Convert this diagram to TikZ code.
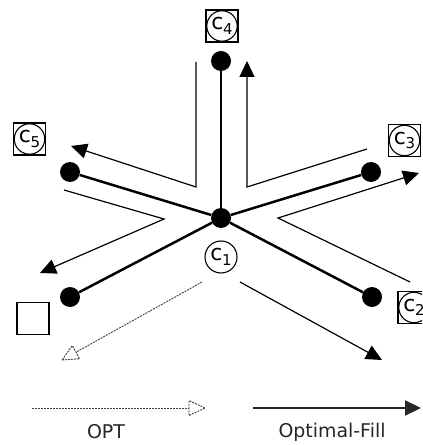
\documentclass[tikz,border=0pt]{standalone}
\usepackage{fontspec}
\setmainfont{DejaVu Sans}
\usetikzlibrary{arrows.meta,calc}
\newcommand\clab[1]{{\fontsize{22}{22}\selectfont c}\kern-0.5bp{\fontsize{15}{15}\selectfont\raisebox{-4.5bp}{#1}}}
\begin{document}
\begin{tikzpicture}[x=1bp,y=-1bp,
  dot/.style={circle,fill,minimum size=20bp,inner sep=0},
  tree/.style={line width=2.5bp},
  fillarrow/.style={line width=1.2bp,-{Triangle[length=16bp,width=15bp]}},
  opt/.style={line width=0.9bp,black!75,dash pattern=on 2bp off 1bp},
  lbox/.style={draw,line width=1.1bp,minimum size=32bp,inner sep=0,
    path picture={\draw[line width=1.1bp] (path picture bounding box.center) circle (15.2bp);}},
  ebox/.style={draw,line width=1.1bp,minimum size=32bp,inner sep=0},
  lcirc/.style={draw,circle,line width=1.1bp,minimum size=32bp,inner sep=0},
  legend/.style={font=\fontsize{19}{23}\selectfont,text=black!85}]
\clip (0,0) rectangle (422,445);
\fill[white] (0,0) rectangle (422,445);
% tree
\node[dot] (r) at (221,218) {};
\node[dot] (d4) at (221,61) {};
\node[dot] (d5) at (70,172) {};
\node[dot] (d3) at (371,172) {};
\node[dot] (d6) at (70,297) {};
\node[dot] (d2) at (372,297) {};
\foreach \d in {d4,d5,d3,d6,d2} \draw[tree] (r) -- (\d);
% labels
\node[lbox] (c4) at (222,26) {\clab{4}};
\node[lbox] (c5) at (29.5,139) {\clab{5}};
\node[lbox] (c3) at (404.5,140.5) {\clab{3}};
\node[lbox] (c2) at (414,307.5) {\clab{2}};
\node[ebox] (c6) at (33,318.5) {};
\node[lcirc] (c1) at (221,257) {\clab{1}};
% Optimal-Fill tour
\coordinate (a1) at (367,149);
\coordinate (a2) at (247,187);
\coordinate (a3) at (247,61);
\draw[fillarrow] (a1) -- (a2) -- (a3);
\coordinate (b1) at (196,62);
\coordinate (b2) at (196,187);
\coordinate (b3) at (71,146);
\draw[fillarrow] (b1) -- (b2) -- (b3);
\coordinate (e1) at (64,190);
\coordinate (e2) at (164,219);
\coordinate (e3) at (40,273);
\draw[fillarrow] (e1) -- (e2) -- (e3);
\coordinate (f1) at (410,282);
\coordinate (f2) at (278,218);
\coordinate (f3) at (419,173);
\draw[fillarrow] (f1) -- (f2) -- (f3);
\coordinate (g1) at (240,282);
\coordinate (g2) at (382,360);
\draw[fillarrow] (g1) -- (g2);
% OPT
\coordinate (o1) at (202,282);
\coordinate (o2) at (62,360);
\coordinate (ob) at ($(o2)!16bp!(o1)$);
\draw[opt] (o1) -- (ob);
\draw[opt] (o2) -- ($(ob)!7.5bp!90:(o2)$) -- ($(ob)!7.5bp!-90:(o2)$) -- cycle;
% legend
\coordinate (l1) at (32,408);
\coordinate (l2) at (205,408);
\coordinate (lb) at ($(l2)!16bp!(l1)$);
\draw[opt] (l1) -- (lb);
\draw[opt] (l2) -- ($(lb)!7.5bp!90:(l2)$) -- ($(lb)!7.5bp!-90:(l2)$) -- cycle;
\coordinate (m1) at (253,408);
\coordinate (m2) at (421,408);
\draw[line width=2bp,black!85,-{Triangle[length=16bp,width=15bp]}] (m1) -- (m2);
\node[legend] (t1) at (106,432) {OPT};
\node[legend] (t2) at (332,432) {Optimal-Fill};
\end{tikzpicture}
\end{document}
